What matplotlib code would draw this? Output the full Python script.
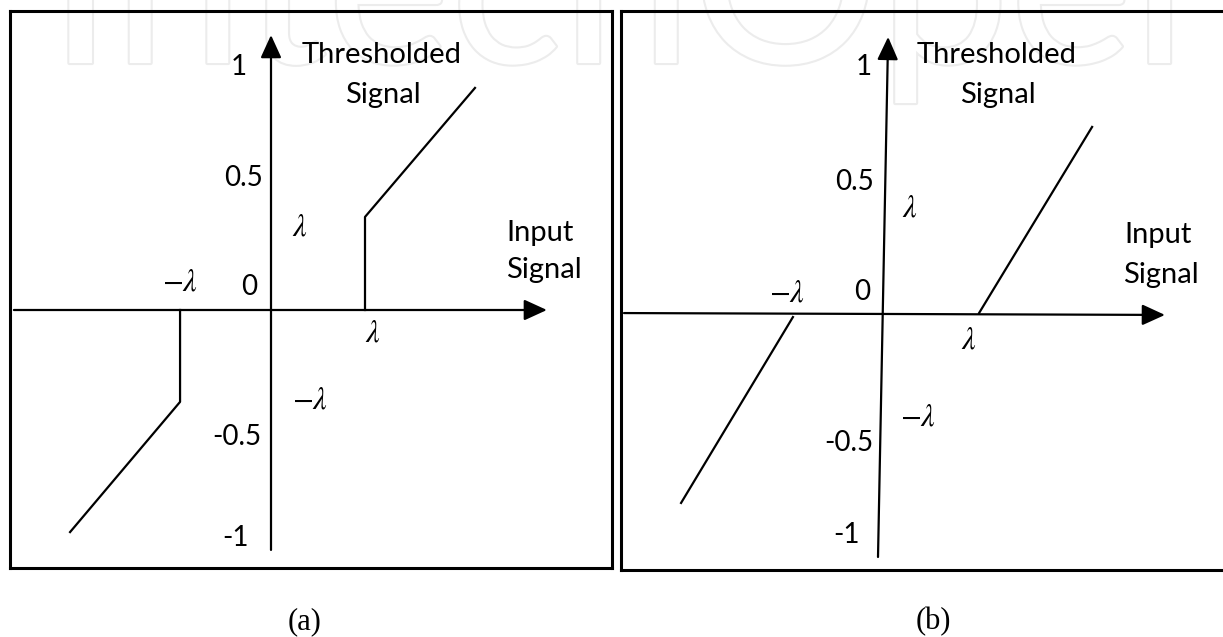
import matplotlib
matplotlib.use("Agg")
import matplotlib.pyplot as plt
import matplotlib.patheffects as pe

plt.rcParams['mathtext.fontset'] = 'stix'

# 値は図から読み取り (1単位 = 0.5 目盛の約2倍)
# (a) ハード閾値
hard_pos_x = [0.40, 0.40, 0.868]
hard_pos_y = [0.0, 0.396, 0.945]
hard_neg_x = [-0.387, -0.387, -0.855]
hard_neg_y = [0.0, -0.391, -0.945]
# (b) ソフト閾値
soft_pos_x = [0.413, 0.894]
soft_pos_y = [0.004, 0.796]
soft_neg_x = [-0.379, -0.855]
soft_neg_y = [-0.013, -0.804]

tick_labels = ["1", "0.5", "0", "-0.5", "-1"]
panel_names = ["(a)", "(b)"]

W, H = 1223, 637
S = 235.0  # px per unit

fig = plt.figure(figsize=(W / 100, H / 100), dpi=100)

# 透かし
fig.text(48 / W, 1 - 63 / H, "IntechOpen", fontsize=168, family="Lato",
         color="white", va="baseline", ha="left", zorder=-5,
         path_effects=[pe.Stroke(linewidth=3, foreground="#ececec"), pe.Normal()])


def make_panel(left, top, right, bottom, ox, oy):
    ax = fig.add_axes([left / W, 1 - bottom / H, (right - left) / W, (bottom - top) / H])
    ax.set_facecolor("none")
    ax.set_xlim((left - ox) / S, (right - ox) / S)
    ax.set_ylim((oy - bottom) / S, (oy - top) / S)
    ax.set_xticks([])
    ax.set_yticks([])
    for sp in ax.spines.values():
        sp.set_linewidth(2.2)
        sp.set_color("black")
    return ax


def arrow(ax, x0, y0, x1, y1):
    ax.annotate("", xy=(x1, y1), xytext=(x0, y0),
                arrowprops=dict(arrowstyle="-|>,head_length=0.7,head_width=0.32",
                                mutation_scale=20, lw=1.6, color="black",
                                shrinkA=0, shrinkB=0))


word_font = dict(family=["Lato", "DejaVu Sans"], fontsize=21, ha="center", va="center")
num_font = dict(family=["Lato", "DejaVu Sans"], fontsize=20, ha="center", va="center")
lam_font = dict(fontsize=22, ha="center", va="center")

# ---- (a) ----
ax1 = make_panel(10, 11, 612, 568, 271, 310)
arrow(ax1, 0, -1.021, 0, 1.170)
arrow(ax1, -1.094, 0, 1.174, 0)
ax1.plot(hard_pos_x, hard_pos_y, color="black", lw=1.6)
ax1.plot(hard_neg_x, hard_neg_y, color="black", lw=1.6)

tick_pos_a = [(-0.136, 1.034), (-0.115, 0.562), (-0.094, 0.098), (-0.145, -0.540), (-0.153, -0.970)]
for lab, (x, y) in zip(tick_labels, tick_pos_a):
    ax1.text(x, y, lab, **num_font)
ax1.text(0.472, 1.085, "Thresholded", **word_font)
ax1.text(0.477, 0.915, "Signal", **word_font)
ax1.text(1.145, 0.328, "Input", **word_font)
ax1.text(1.162, 0.170, "Signal", **word_font)
ax1.text(0.123, 0.353, r"$\lambda$", **lam_font)
ax1.text(-0.387, 0.119, r"$-\lambda$", **lam_font)
ax1.text(0.434, -0.098, r"$\lambda$", **lam_font)
ax1.text(0.166, -0.383, r"$-\lambda$", **lam_font)

# ---- (b) ----
ax2 = make_panel(621, 11, 1226, 570, 882, 314)
arrow(ax2, -0.017, -1.034, 0.026, 1.179)
arrow(ax2, -1.098, 0.004, 1.204, -0.004)
ax2.plot(soft_pos_x, soft_pos_y, color="black", lw=1.6)
ax2.plot(soft_neg_x, soft_neg_y, color="black", lw=1.6)

tick_pos_b = [(-0.077, 1.051), (-0.115, 0.562), (-0.085, 0.094), (-0.140, -0.549), (-0.153, -0.940)]
for lab, (x, y) in zip(tick_labels, tick_pos_b):
    ax2.text(x, y, lab, **num_font)
ax2.text(0.489, 1.102, "Thresholded", **word_font)
ax2.text(0.494, 0.932, "Signal", **word_font)
ax2.text(1.174, 0.336, "Input", **word_font)
ax2.text(1.187, 0.166, "Signal", **word_font)
ax2.text(0.119, 0.451, r"$\lambda$", **lam_font)
ax2.text(-0.404, 0.089, r"$-\lambda$", **lam_font)
ax2.text(0.370, -0.111, r"$\lambda$", **lam_font)
ax2.text(0.153, -0.438, r"$-\lambda$", **lam_font)

# パネル名
fig.text(305 / W, 1 - 622 / H, panel_names[0], family="Liberation Serif",
         fontsize=22, ha="center", va="center")
fig.text(933 / W, 1 - 622 / H, panel_names[1], family="Liberation Serif",
         fontsize=22, ha="center", va="center")

fig.savefig("out.png", dpi=100)
